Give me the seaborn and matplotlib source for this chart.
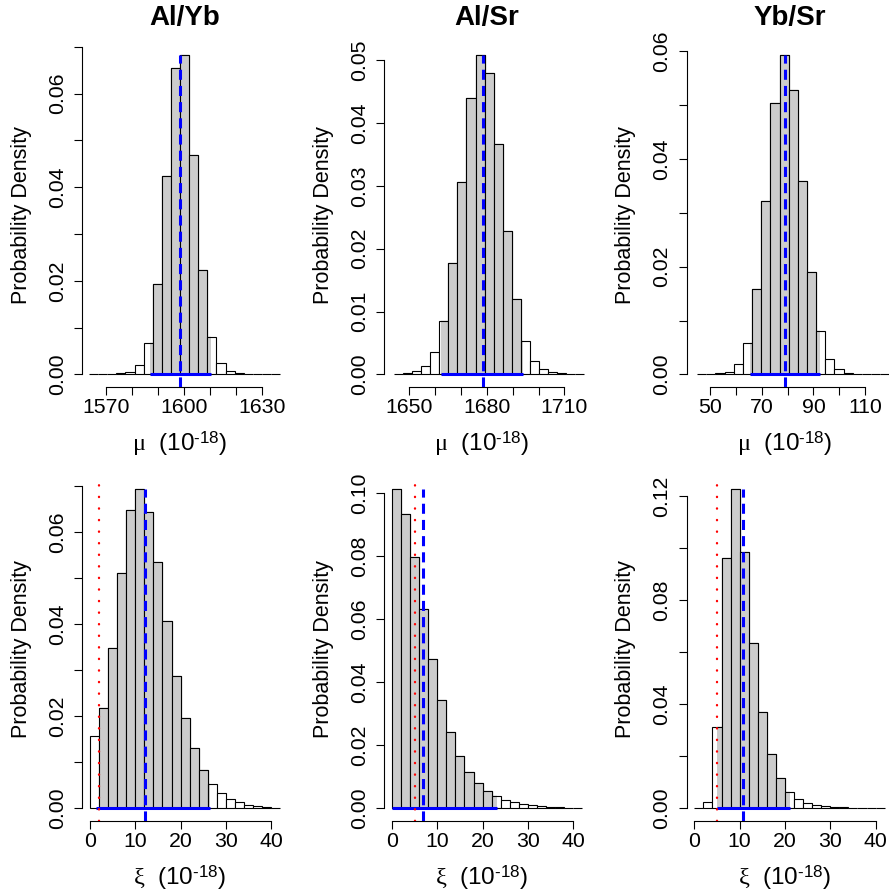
import numpy as np
import pandas as pd
import matplotlib
matplotlib.use("Agg")
import matplotlib.pyplot as plt
import seaborn as sns
from matplotlib.patches import Rectangle

# ---------------- data ----------------
titles = ["Al/Yb", "Al/Sr", "Yb/Sr"]

# mu histograms (bin edges, densities)
mu_AlYb_edges = [1563.6, 1567.1, 1570.6, 1574.1, 1577.6, 1581.1, 1584.6, 1588.1, 1591.6, 1595.1, 1598.6,
                 1602.1, 1605.6, 1609.1, 1612.6, 1616.1, 1619.6, 1623.1, 1626.6, 1630.1, 1633.6, 1637.1]
mu_AlYb_dens = [0.00002, 0.00007, 0.0001, 0.0002, 0.0005, 0.0019, 0.0068, 0.0193, 0.0424, 0.0655, 0.0682,
                0.0469, 0.0224, 0.0080, 0.0025, 0.0007, 0.0003, 0.0001, 0.00007, 0.00003, 0.00001]
mu_AlYb_mean, mu_AlYb_lo, mu_AlYb_hi = 1598.6, 1587.1, 1610.5

mu_AlSr_edges = [1644.2, 1647.7, 1651.2, 1654.7, 1658.2, 1661.7, 1665.2, 1668.7, 1672.2, 1675.7, 1679.2,
                 1682.7, 1686.2, 1689.7, 1693.2, 1696.7, 1700.2, 1703.7, 1707.2, 1710.7, 1714.2, 1717.7]
mu_AlSr_dens = [0.00005, 0.0002, 0.0005, 0.0013, 0.0036, 0.0085, 0.0178, 0.0307, 0.0440, 0.0508, 0.0479,
                0.0367, 0.0229, 0.0120, 0.0053, 0.0021, 0.0008, 0.0003, 0.00015, 0.00005, 0.00002]
mu_AlSr_mean, mu_AlSr_lo, mu_AlSr_hi = 1678.4, 1662.5, 1694.1

mu_YbSr_edges = [45.1, 48.6, 52.1, 55.7, 59.2, 62.7, 66.3, 69.8, 73.3, 76.9, 80.4,
                 83.9, 87.4, 91.0, 94.5, 98.0, 101.6, 105.1, 108.6, 112.1, 115.7, 119.2]
mu_YbSr_dens = [0.00002, 0.0001, 0.0002, 0.0005, 0.0019, 0.0059, 0.0158, 0.0323, 0.0504, 0.0593, 0.0528,
                0.0360, 0.0190, 0.0080, 0.0028, 0.0009, 0.0003, 0.0001, 0.00006, 0.00003, 0.00001]
mu_YbSr_mean, mu_YbSr_lo, mu_YbSr_hi = 78.9, 65.7, 92.7

# xi histograms
xi_edges = [0, 2, 4, 6, 8, 10, 12, 14, 16, 18, 20, 22, 24, 26, 28, 30, 32, 34, 36, 38, 40, 42]
xi_AlYb_dens = [0.0157, 0.0219, 0.0349, 0.0512, 0.0649, 0.0693, 0.0644, 0.0534, 0.0406, 0.0288, 0.0197,
                0.0130, 0.0083, 0.0053, 0.0033, 0.0020, 0.0013, 0.0008, 0.0004, 0.0002, 0.0001]
xi_AlYb_mean, xi_AlYb_lo, xi_AlYb_hi, xi_AlYb_min = 12.2, 1.3, 26.5, 2.1
xi_AlSr_dens = [0.1012, 0.0935, 0.0798, 0.0633, 0.0475, 0.0344, 0.0241, 0.0167, 0.0115, 0.0080, 0.0056,
                0.0039, 0.0027, 0.0019, 0.0015, 0.0011, 0.0007, 0.0005, 0.0003, 0.0002, 0.0001]
xi_AlSr_mean, xi_AlSr_lo, xi_AlSr_hi, xi_AlSr_min = 6.9, 0.0, 23.1, 5.0
xi_YbSr_dens = [0.0, 0.0023, 0.0313, 0.0963, 0.1227, 0.0986, 0.0635, 0.0369, 0.0208, 0.0115, 0.0064,
                0.0037, 0.0022, 0.0014, 0.0009, 0.0006, 0.0004, 0.0003, 0.0001, 0.00005, 0.00002]
xi_YbSr_mean, xi_YbSr_lo, xi_YbSr_hi, xi_YbSr_min = 10.7, 5.1, 21.1, 5.1

# axis ticks / labels
mu_AlYb_xticks = [1570, 1580, 1590, 1600, 1610, 1620, 1630]
mu_AlYb_xlabels = ["1570", "", "", "1600", "", "", "1630"]
mu_AlSr_xticks = [1650, 1660, 1670, 1680, 1690, 1700, 1710]
mu_AlSr_xlabels = ["1650", "", "", "1680", "", "", "1710"]
mu_YbSr_xticks = [50, 60, 70, 80, 90, 100, 110]
mu_YbSr_xlabels = ["50", "", "70", "", "90", "", "110"]
xi_xticks = [0, 10, 20, 30, 40]
xi_xlabels = ["0", "10", "20", "30", "40"]

yt_007 = [0.00, 0.01, 0.02, 0.03, 0.04, 0.05, 0.06, 0.07]
yl_007 = ["0.00", "", "0.02", "", "0.04", "", "0.06", ""]
yt_005 = [0.00, 0.01, 0.02, 0.03, 0.04, 0.05]
yl_005 = ["0.00", "0.01", "0.02", "0.03", "0.04", "0.05"]
yt_006 = [0.00, 0.01, 0.02, 0.03, 0.04, 0.05, 0.06]
yl_006 = ["0.00", "", "0.02", "", "0.04", "", "0.06"]
yt_010 = [0.00, 0.02, 0.04, 0.06, 0.08, 0.10]
yl_010 = ["0.00", "0.02", "0.04", "0.06", "0.08", "0.10"]
yt_012 = [0.00, 0.02, 0.04, 0.06, 0.08, 0.10, 0.12]
yl_012 = ["0.00", "", "0.04", "", "0.08", "", "0.12"]

mu_label = "$\\mathrm{\\mu}$  (10$^{\\mathsf{\u2010}\\mathsf{18}}$)"
xi_label = "$\\mathrm{\\xi}$  (10$^{\\mathsf{\u2010}\\mathsf{18}}$)"

# ---------------- style ----------------
sns.set_theme(style="ticks", rc={
    "axes.edgecolor": "black", "axes.linewidth": 0.8,
    "xtick.color": "black", "ytick.color": "black",
    "text.color": "black", "axes.labelcolor": "black",
})
plt.rcParams["font.family"] = ["Liberation Sans", "DejaVu Sans"]
plt.rcParams["mathtext.fontset"] = "custom"
plt.rcParams["mathtext.rm"] = "Liberation Serif"
plt.rcParams["mathtext.sf"] = "Liberation Sans"
plt.rcParams["mathtext.it"] = "Liberation Serif:italic"
plt.rcParams["mathtext.bf"] = "Liberation Serif:bold"

W, H = 889, 896
fig = plt.figure(figsize=(W / 100, H / 100), dpi=100)

col_left = [82.3, 384.3, 686.7]
pw, ph = 205.6, 344.6
row_bottom = [387.1, 821.1]


def make_ax(r, c):
    return fig.add_axes([col_left[c] / W, 1 - row_bottom[r] / H, pw / W, ph / H])


def draw_hist(ax, edges, dens, color):
    centers = [(a + b) / 2 for a, b in zip(edges[:-1], edges[1:])]
    df = pd.DataFrame({"x": centers, "w": list(dens)})
    n0 = len(ax.patches)
    try:
        sns.histplot(data=df, x="x", weights="w", bins=list(edges), stat="count",
                     color=color, edgecolor="black", linewidth=0.8, alpha=1, ax=ax)
    except Exception:
        for p in ax.patches[n0:]:
            p.remove()
        widths = [b - a for a, b in zip(edges[:-1], edges[1:])]
        ax.bar(edges[:-1], dens, width=widths, align="edge", color=color,
               edgecolor="black", linewidth=0.8)
    return ax.patches[n0:]


def panel(ax, edges, dens, mean, lo, hi, xlim, xticks, xlabs, yticks, ylabs, xlabel,
          red=None, gray_lo=None):
    edges = [float(e) for e in edges]
    ymax = max(dens)
    ylim = (-0.04 * ymax, 1.04 * ymax)
    draw_hist(ax, edges, dens, "white")
    gray = draw_hist(ax, edges, dens, "#cccccc")
    glo = lo if gray_lo is None else gray_lo
    clip = Rectangle((glo, ylim[0]), hi - glo, ylim[1] - ylim[0], transform=ax.transData)
    for p in gray:
        p.set_clip_path(clip)
    # blue dashed line at estimate
    ax.plot([mean, mean], [ylim[0], ymax], color="blue", lw=2.2, dashes=(3.3, 2.0), zorder=5)
    # blue interval at the baseline
    ax.plot([lo, hi], [0, 0], color="blue", lw=2.2, solid_capstyle="butt", zorder=5)
    if red is not None:
        ax.axvline(red, color="red", lw=1.7, dashes=(0.1, 4.8), dash_capstyle="round", zorder=6)
    ax.set_xlim(*xlim)
    ax.set_ylim(*ylim)
    ax.set_xticks(xticks)
    ax.set_xticklabels(xlabs)
    ax.set_yticks(yticks)
    ax.set_yticklabels(ylabs)
    ax.set_xlabel("")
    ax.set_ylabel("")
    sns.despine(ax=ax)
    ax.spines["left"].set_bounds(yticks[0], yticks[-1])
    ax.spines["bottom"].set_bounds(xticks[0], xticks[-1])
    ax.tick_params(axis="both", length=5.5, width=0.8, labelsize=15.3)
    ax.tick_params(axis="x", pad=2)
    ax.tick_params(axis="y", pad=5.5)
    for lab in ax.get_yticklabels():
        lab.set_rotation(90)
        lab.set_va("center")
    ax.text(-0.298, 0.5, "Probability Density", transform=ax.transAxes, rotation=90,
            ha="center", va="center", fontsize=15.5)
    ax.text(0.475, -0.184, xlabel, transform=ax.transAxes, ha="center", va="baseline",
            fontsize=17.5)


xi_xlim = (-1.68, 43.68)

ax = make_ax(0, 0)
panel(ax, mu_AlYb_edges, mu_AlYb_dens, mu_AlYb_mean, mu_AlYb_lo, mu_AlYb_hi,
      (1561.0, 1640.1), mu_AlYb_xticks, mu_AlYb_xlabels, yt_007, yl_007, mu_label)
ax = make_ax(0, 1)
panel(ax, mu_AlSr_edges, mu_AlSr_dens, mu_AlSr_mean, mu_AlSr_lo, mu_AlSr_hi,
      (1640.5, 1719.8), mu_AlSr_xticks, mu_AlSr_xlabels, yt_005, yl_005, mu_label)
ax = make_ax(0, 2)
panel(ax, mu_YbSr_edges, mu_YbSr_dens, mu_YbSr_mean, mu_YbSr_lo, mu_YbSr_hi,
      (41.1, 120.4), mu_YbSr_xticks, mu_YbSr_xlabels, yt_006, yl_006, mu_label)

ax = make_ax(1, 0)
panel(ax, xi_edges, xi_AlYb_dens, xi_AlYb_mean, xi_AlYb_lo, xi_AlYb_hi,
      xi_xlim, xi_xticks, xi_xlabels, yt_007, yl_007, xi_label, red=xi_AlYb_min, gray_lo=2.0)
ax = make_ax(1, 1)
panel(ax, xi_edges, xi_AlSr_dens, xi_AlSr_mean, xi_AlSr_lo, xi_AlSr_hi,
      xi_xlim, xi_xticks, xi_xlabels, yt_010, yl_010, xi_label, red=xi_AlSr_min)
ax = make_ax(1, 2)
panel(ax, xi_edges, xi_YbSr_dens, xi_YbSr_mean, xi_YbSr_lo, xi_YbSr_hi,
      xi_xlim, xi_xticks, xi_xlabels, yt_012, yl_012, xi_label, red=xi_YbSr_min)

for c, t in enumerate(titles):
    fig.text((col_left[c] + pw / 2) / W, 1 - 17.5 / H, t, ha="center", va="center",
             fontsize=20, fontweight="bold")

fig.savefig("out.png", dpi=100)
